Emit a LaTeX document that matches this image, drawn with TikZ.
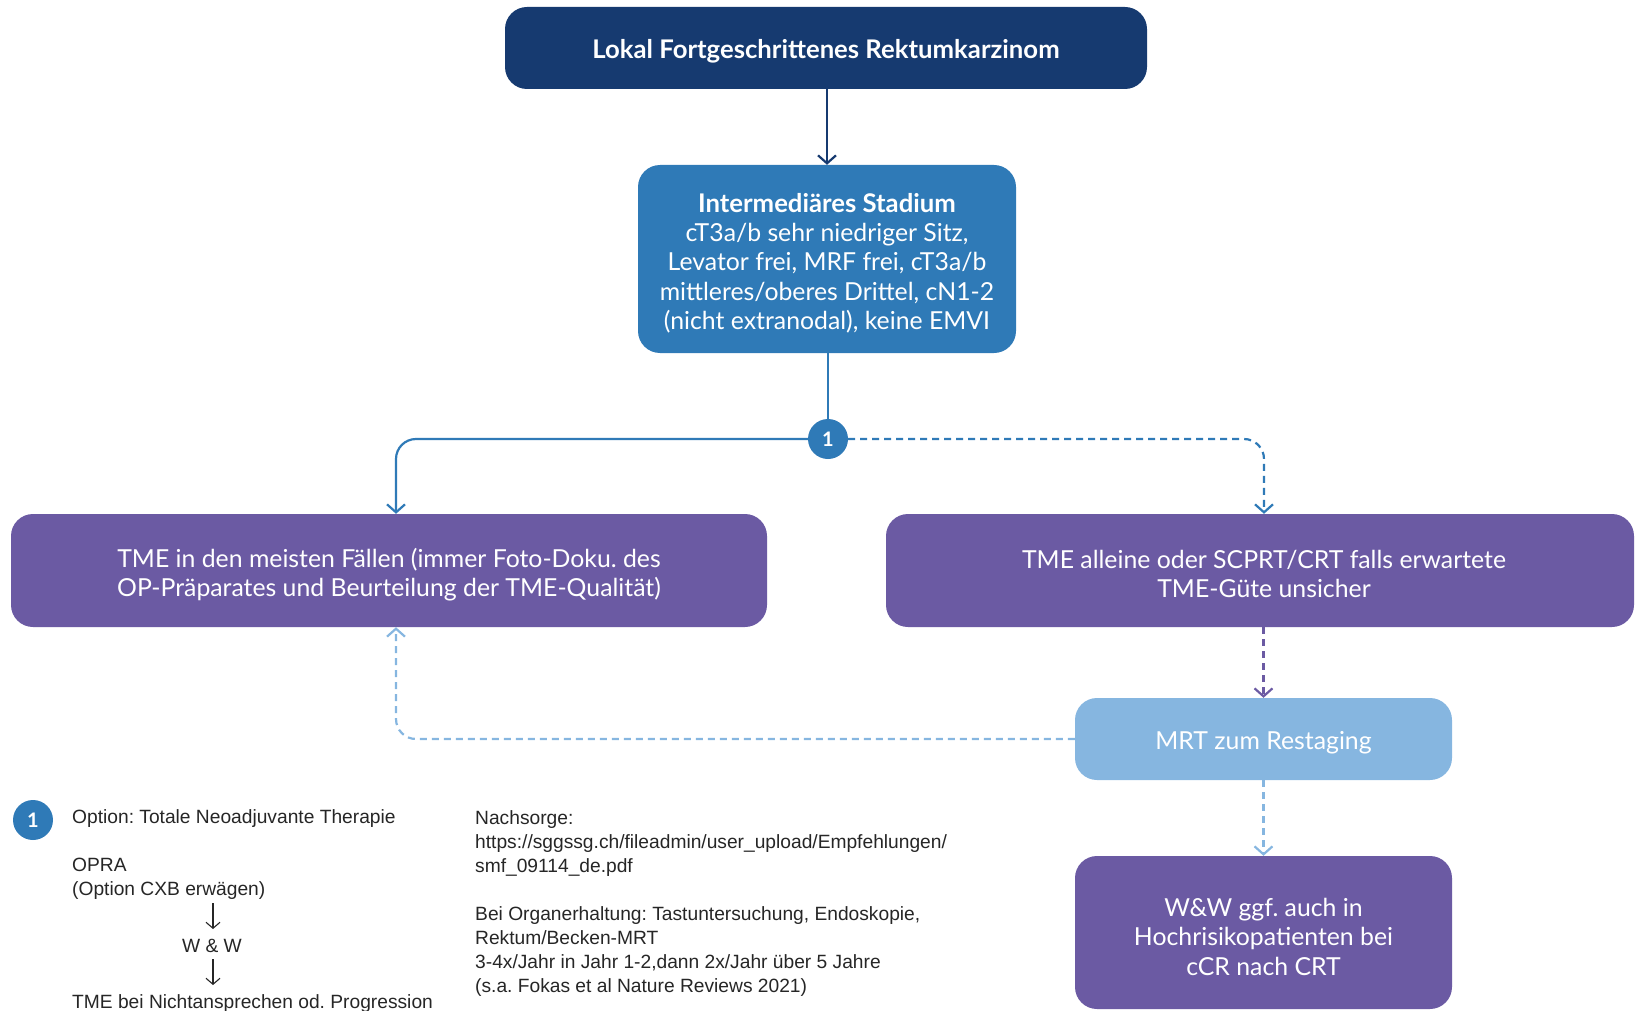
\documentclass[tikz,border=0pt]{standalone}
\usepackage{fontspec}
\setmainfont{Lato}
\newfontfamily\legendfont{Liberation Sans}
\usetikzlibrary{arrows.meta,calc}
\frenchspacing

\definecolor{navy}{HTML}{163A70}
\definecolor{midblue}{HTML}{2F7AB7}
\definecolor{violet}{HTML}{6B5AA3}
\definecolor{skyblue}{HTML}{86B6E0}
\definecolor{legendgray}{HTML}{262626}

\tikzset{
  box/.style={rounded corners=22pt, inner sep=0pt},
  boxtext/.style={text=white, align=center, inner sep=0pt,
    font=\fontsize{24.8}{29.3}\selectfont},
  boxtitle/.style={boxtext, font=\bfseries\fontsize{25.7}{29.3}\selectfont},
  conn/.style={line width=2.2pt, -{Straight Barb[length=8pt,width=18pt]}},
  dashconn/.style={conn, dash pattern=on 7pt off 5pt},
  badge/.style={circle, fill=midblue, minimum size=40pt, inner sep=0pt, text=white,
    font=\bfseries\fontsize{20}{20}\selectfont},
  legend/.style={inner sep=0pt, text=legendgray, font=\legendfont\fontsize{19.2}{24}\selectfont},
  smallarrow/.style={line width=1.1pt, legendgray, -{Straight Barb[length=6pt,width=14pt]}}
}

\begin{document}
\begin{tikzpicture}[x=1pt, y=-1pt]
\useasboundingbox (0,0) rectangle (1635,1011);

% flow boxes (shape first, text on top)
\node[box, fill=navy, minimum width=642pt, minimum height=82pt] (top) at (826,48) {};
\node[boxtitle] (top-t) at ([yshift=-3.5pt]top.center) {Lokal Fortgeschrittenes Rektumkarzinom};

\node[box, fill=midblue, minimum width=378pt, minimum height=188pt] (mid) at (827,259) {};
\node[boxtext] (mid-t) at ([yshift=-4.2pt]mid.center)
  {{\bfseries\fontsize{25.7}{29.3}\selectfont Intermediäres Stadium}\\cT3a/b sehr niedriger Sitz,\\Levator frei, MRF frei, cT3a/b\\mittleres/oberes Drittel, cN1-2\\(nicht extranodal), keine EMVI};

\node[badge] (c1) at (828,439) {1};

\node[box, fill=violet, minimum width=756pt, minimum height=113pt] (tmeL) at (389,570.5) {};
\node[boxtext] (tmeL-t) at ([yshift=-4.2pt]tmeL.center)
  {TME in den meisten Fällen (immer Foto-Doku. des\\OP-Präparates und Beurteilung der TME-Qualität)};

\node[box, fill=violet, minimum width=748pt, minimum height=113pt] (tmeR) at (1260,570.5) {};
\node[boxtext] (tmeR-t) at ([xshift=4pt, yshift=-3.5pt]tmeR.center)
  {TME alleine oder SCPRT/CRT falls erwartete\\TME-Güte unsicher};

\node[box, fill=skyblue, minimum width=377pt, minimum height=82pt] (mrt) at (1263.5,739) {};
\node[boxtext] (mrt-t) at ([yshift=-4.2pt]mrt.center) {MRT zum Restaging};

\node[box, fill=violet, minimum width=377pt, minimum height=153pt] (ww) at (1263.5,932.5) {};
\node[boxtext] (ww-t) at ([yshift=-4.2pt]ww.center)
  {W\&W ggf. auch in\\Hochrisikopatienten bei\\cCR nach CRT};

% connectors
\draw[conn, navy] (top.south -| mid.north) -- (mid.north);
\draw[line width=2.2pt, midblue] (c1.north |- mid.south) -- (c1.north);
\draw[conn, midblue, rounded corners=20pt] (c1.west) -| ([xshift=7pt]tmeL.north);
\draw[dashconn, midblue, rounded corners=20pt] (c1.east) -| ([xshift=4pt]tmeR.north);
\draw[dashconn, violet] (mrt.north |- tmeR.south) -- (mrt.north);
\draw[dashconn, skyblue, rounded corners=20pt] (mrt.west) -| ([xshift=7pt]tmeL.south);
\draw[dashconn, skyblue] (mrt.south) -- (ww.north);

% legend
\node[badge] (c1leg) at (33,820) {1};
\node[legend, anchor=base west] (opt) at (72,823.5) {Option: Totale Neoadjuvante Therapie};
\node[legend, anchor=base west] (opra) at (72,871.5) {OPRA};
\node[legend, anchor=base west] (cxb) at (72,895.5) {(Option CXB erwägen)};
\node[legend, anchor=base] (wwleg) at (212,952.5) {W \& W};
\node[legend, anchor=base west] (tmeleg) at (72,1008.5) {TME bei Nichtansprechen od. Progression};
\coordinate (a1s) at (213,903);
\coordinate (a1e) at (213,929);
\coordinate (a2s) at (213,959);
\coordinate (a2e) at (213,985);
\draw[smallarrow] (a1s) -- (a1e);
\draw[smallarrow] (a2s) -- (a2e);

% follow-up notes
\node[legend, anchor=north west, align=left] (notes) at (475,810)
  {Nachsorge:\\https://sggssg.ch/fileadmin/user\_upload/Empfehlungen/\\smf\_09114\_de.pdf\\[24pt]Bei Organerhaltung: Tastuntersuchung, Endoskopie,\\Rektum/Becken-MRT\\3-4x/Jahr in Jahr 1-2,dann 2x/Jahr über 5 Jahre\\(s.a. Fokas et al Nature Reviews 2021)};
\end{tikzpicture}
\end{document}
